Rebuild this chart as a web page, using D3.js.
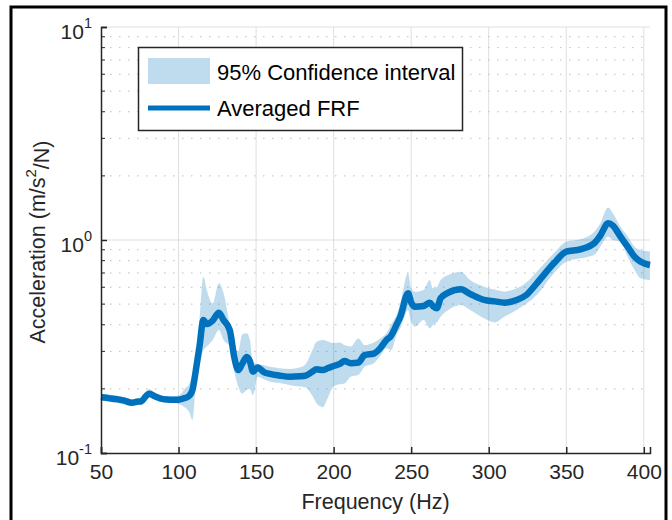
<!DOCTYPE html>
<html>
<head>
<meta charset="utf-8">
<script src="https://cdn.jsdelivr.net/npm/d3@7"></script>
<style>
  body { margin: 0; background: #fff; }
  svg { font-family: "Liberation Sans", Arial, sans-serif; }
</style>
</head>
<body>
<svg id="chart" width="672" height="520"></svg>
<script>
// frequency (Hz)
const freq = [50, 55, 60, 65, 70, 73, 76, 79, 81, 85, 90, 95, 100, 104, 107, 109, 111.5, 113.5, 116, 118.3,
  122, 126, 129, 133, 136, 138.5, 141, 144, 146, 148, 151, 155, 159, 165, 172, 178, 182, 186, 189, 193,
  196, 200, 204, 207, 211, 216, 220, 226, 230, 234, 237, 241, 243, 248, 250, 252.5, 258, 262, 264, 266.5,
  269, 274, 282, 288, 297, 304, 310, 318, 324, 331, 342, 350, 359, 368, 372, 377, 380, 385, 390, 394, 398, 404]
// averaged FRF (m/s^2/N)
const frfMean = [0.183, 0.181, 0.179, 0.176, 0.172, 0.174, 0.175, 0.185, 0.190, 0.184, 0.179, 0.178, 0.178, 0.181, 0.186, 0.198, 0.254, 0.316, 0.421, 0.403,
  0.418, 0.456, 0.421, 0.378, 0.28, 0.245, 0.262, 0.282, 0.27, 0.241, 0.252, 0.240, 0.235, 0.231, 0.228, 0.229, 0.231, 0.240, 0.247, 0.245,
  0.250, 0.256, 0.262, 0.270, 0.264, 0.266, 0.288, 0.293, 0.310, 0.339, 0.355, 0.406, 0.436, 0.562, 0.510, 0.486, 0.490, 0.508, 0.490, 0.478,
  0.533, 0.566, 0.587, 0.558, 0.523, 0.515, 0.508, 0.523, 0.550, 0.626, 0.777, 0.882, 0.904, 0.965, 1.05, 1.197, 1.17, 1.036, 0.92, 0.835, 0.79, 0.763]
// 95% confidence bounds
const ciUpper = [0.190, 0.188, 0.186, 0.183, 0.179, 0.180, 0.182, 0.195, 0.200, 0.191, 0.185, 0.184, 0.186, 0.200, 0.212, 0.235, 0.283, 0.42, 0.673, 0.58,
  0.504, 0.626, 0.564, 0.40, 0.31, 0.30, 0.36, 0.365, 0.34, 0.265, 0.262, 0.258, 0.254, 0.250, 0.248, 0.252, 0.262, 0.300, 0.333, 0.339,
  0.335, 0.328, 0.330, 0.321, 0.316, 0.345, 0.321, 0.330, 0.345, 0.365, 0.40, 0.453, 0.504, 0.698, 0.593, 0.572, 0.583, 0.649, 0.593, 0.60,
  0.649, 0.685, 0.710, 0.649, 0.604, 0.585, 0.572, 0.593, 0.63, 0.710, 0.866, 0.982, 1.008, 1.094, 1.2, 1.42, 1.334, 1.154, 1.03, 0.93, 0.897, 0.882]
const ciLower = [0.176, 0.174, 0.172, 0.169, 0.166, 0.168, 0.169, 0.179, 0.183, 0.178, 0.173, 0.172, 0.170, 0.164, 0.155, 0.143, 0.228, 0.26, 0.304, 0.316,
  0.339, 0.378, 0.339, 0.316, 0.24, 0.205, 0.19, 0.198, 0.20, 0.187, 0.228, 0.222, 0.216, 0.213, 0.208, 0.205, 0.203, 0.187, 0.171, 0.164,
  0.180, 0.205, 0.210, 0.212, 0.228, 0.233, 0.254, 0.264, 0.285, 0.310, 0.304, 0.365, 0.385, 0.469, 0.414, 0.392, 0.421, 0.385, 0.399, 0.41,
  0.436, 0.469, 0.495, 0.469, 0.429, 0.41, 0.436, 0.469, 0.50, 0.552, 0.698, 0.791, 0.820, 0.850, 0.93, 1.036, 1.0, 0.982, 0.82, 0.723, 0.661, 0.649]

const xTicks = [50, 100, 150, 200, 250, 300, 350, 400]
const yMajor = [0.1, 1, 10]
const yExp = ["-1", "0", "1"]

const lineColor = "#0072BD"
const margin = {top: 27, right: 22, bottom: 67, left: 101}
const width = 672 - margin.left - margin.right
const height = 520 - margin.top - margin.bottom

const svg = d3.select("#chart")

// outer frame
svg.append("rect")
  .attr("x", 11).attr("y", 7)
  .attr("width", 655).attr("height", 530)
  .attr("fill", "none").attr("stroke", "#000").attr("stroke-width", 3)

const g = svg.append("g")
  .attr("transform", "translate(" + margin.left + "," + margin.top + ")")

const x = d3.scaleLinear().domain([50, 404]).range([0, width])
const y = d3.scaleLog().domain([0.1, 10]).range([height, 0])

// minor values for the log axis
const yMinor = []
;[0.1, 1].forEach(function (d) {
  for (let k = 2; k <= 9; k++) yMinor.push(d * k)
})

// grid
g.append("g").selectAll("line")
  .data(xTicks.slice(1))
  .join("line")
  .attr("x1", d => x(d)).attr("x2", d => x(d))
  .attr("y1", 0).attr("y2", height)
  .attr("stroke", "#dfdfdf").attr("stroke-width", 1)

g.append("g").selectAll("line")
  .data(yMinor)
  .join("line")
  .attr("x1", 0).attr("x2", width)
  .attr("y1", d => y(d)).attr("y2", d => y(d))
  .attr("stroke", "#bdbdbd").attr("stroke-width", 1)
  .attr("stroke-dasharray", "1.5,7.5")

g.append("g").selectAll("line")
  .data([1, 10])
  .join("line")
  .attr("x1", 0).attr("x2", width)
  .attr("y1", d => y(d)).attr("y2", d => y(d))
  .attr("stroke", "#dfdfdf").attr("stroke-width", 1)

const pts = freq.map((f, i) => ({f: f, m: frfMean[i], lo: ciLower[i], hi: ciUpper[i]}))

// confidence band
const band = d3.area()
  .x(d => x(d.f))
  .y0(d => y(d.lo))
  .y1(d => y(d.hi))
  .curve(d3.curveMonotoneX)

g.append("path")
  .datum(pts)
  .attr("d", band)
  .attr("fill", lineColor)
  .attr("fill-opacity", 0.25)

// averaged FRF
const valueLine = d3.line()
  .x(d => x(d.f))
  .y(d => y(d.m))
  .curve(d3.curveMonotoneX)

g.append("path")
  .datum(pts)
  .attr("d", valueLine)
  .attr("fill", "none")
  .attr("stroke", lineColor)
  .attr("stroke-width", 6.5)
  .attr("stroke-linejoin", "round")

// x axis, ticks inward
const xAxis = d3.axisBottom(x).tickValues(xTicks).tickSize(-6).tickPadding(11).tickFormat(d3.format("d"))
const gX = g.append("g")
  .attr("transform", "translate(0," + height + ")")
  .call(xAxis)
gX.selectAll("text").attr("font-size", 21).attr("fill", "#262626").attr("font-family", "Liberation Sans, Arial, sans-serif")

// y axis, ticks inward
const yAxis = d3.axisLeft(y).tickValues(yMajor).tickSize(-6).tickPadding(9).tickFormat("")
const gY = g.append("g").call(yAxis)
gY.selectAll(".tick text").each(function (d, i) {
  const t = d3.select(this)
    .attr("font-size", 21).attr("fill", "#262626")
    .attr("font-family", "Liberation Sans, Arial, sans-serif")
    .attr("dy", "0.55em")
  t.append("tspan").text("10")
  t.append("tspan").attr("dy", "-0.75em").attr("font-size", 14.5).text(yExp[i])
})
gY.append("g").selectAll("line")
  .data(yMinor)
  .join("line")
  .attr("x1", 0).attr("x2", 4)
  .attr("y1", d => y(d)).attr("y2", d => y(d))
  .attr("stroke", "#262626")

g.selectAll(".domain").attr("stroke", "#262626").attr("stroke-width", 1.5)
g.selectAll(".tick line").attr("stroke", "#262626").attr("stroke-width", 1.5)

// axis labels
svg.append("text")
  .attr("x", margin.left + width / 2).attr("y", 509)
  .attr("text-anchor", "middle")
  .attr("font-size", 21.5).attr("fill", "#262626")
  .text("Frequency (Hz)")

const yl = svg.append("text")
  .attr("transform", "translate(45," + (margin.top + height / 2 + 2) + ") rotate(-90)")
  .attr("text-anchor", "middle")
  .attr("font-size", 21.5).attr("fill", "#262626")
yl.append("tspan").text("Acceleration (m/s")
yl.append("tspan").attr("dy", "-0.6em").attr("font-size", 15).text("2")
yl.append("tspan").attr("dy", "0.6em").text("/N)")

// legend
const lg = svg.append("g")
lg.append("rect")
  .attr("x", 138.5).attr("y", 47.5)
  .attr("width", 324).attr("height", 83)
  .attr("fill", "#fff").attr("stroke", "#262626").attr("stroke-width", 1.5)
lg.append("rect")
  .attr("x", 148).attr("y", 58)
  .attr("width", 62).attr("height", 26)
  .attr("fill", lineColor).attr("fill-opacity", 0.25)
lg.append("line")
  .attr("x1", 148).attr("x2", 210)
  .attr("y1", 108).attr("y2", 108)
  .attr("stroke", lineColor).attr("stroke-width", 5)
lg.append("text")
  .attr("x", 217).attr("y", 80)
  .attr("font-size", 22).attr("fill", "#000")
  .text("95% Confidence interval")
lg.append("text")
  .attr("x", 217).attr("y", 116)
  .attr("font-size", 22).attr("fill", "#000")
  .text("Averaged FRF")
</script>
</body>
</html>
